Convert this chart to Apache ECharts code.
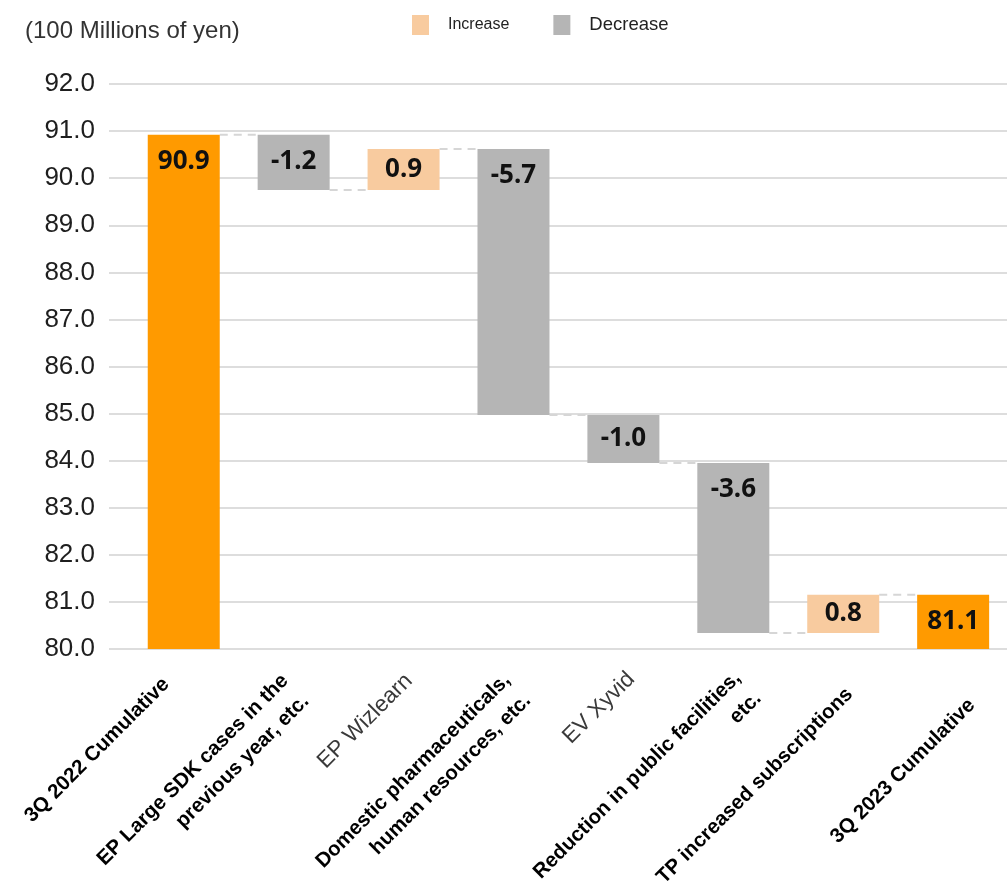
<!DOCTYPE html>
<html>
<head>
<meta charset="utf-8">
<script src="https://cdn.jsdelivr.net/npm/echarts@6/dist/echarts.min.js"></script>
<style>html,body{margin:0;padding:0;background:#fff}#c{width:1007px;height:882px}</style>
</head>
<body>
<div id="c"></div>
<script>
// ---- data ----
const categories = [
  '3Q 2022 Cumulative',
  'EP Large SDK cases in the\nprevious year, etc.',
  'EP Wizlearn',
  'Domestic pharmaceuticals,\nhuman resources, etc.',
  'EV Xyvid',
  'Reduction in public facilities,\netc.',
  'TP increased subscriptions',
  '3Q 2023 Cumulative'
];
const categoryBold = [true, true, false, true, false, true, true, true];
const startTotal = 90.92;
const changes = [-1.17, 0.87, -5.65, -1.02, -3.61, 0.81];
const endTotal = 81.15;
const barLabels = ['90.9', '-1.2', '0.9', '-5.7', '-1.0', '-3.6', '0.8', '81.1'];
const yMin = 80, yMax = 92, yStep = 1;
const seriesNames = ['Increase', 'Decrease'];

// ---- style / layout ----
const COLOR_TOTAL = '#FF9A00', COLOR_INC = '#F8CB9F', COLOR_DEC = '#B5B5B5';
const BAR_W = 0.655;
const X_MIN = -0.68, X_MAX = 7.49;
// per-label nudges [padTop, padRight] in rotated frame
const labelNudge = [[3, 41], [11, 32], [30, 22], [13, 30], [31, 19], [25, 21], [51, 31], [84, 30]];

// ---- build waterfall ----
const totalData = [[0, yMin, startTotal]];
const incData = [], decData = [], linkData = [];
let level = startTotal;
changes.forEach((d, k) => {
  const i = k + 1;
  linkData.push([i - 1, level]);
  const lo = Math.min(level, level + d), hi = Math.max(level, level + d);
  (d >= 0 ? incData : decData).push([i, lo, hi]);
  level += d;
});
linkData.push([changes.length, endTotal]);
totalData.push([categories.length - 1, yMin, endTotal]);

function barRender(color) {
  return function (params, api) {
    const x = api.value(0), lo = api.value(1), hi = api.value(2);
    const pTop = api.coord([x, hi]), pBot = api.coord([x, lo]);
    const w = api.size([BAR_W, 0])[0];
    const h = pBot[1] - pTop[1];
    return {
      type: 'group',
      children: [
        { type: 'rect', shape: { x: pTop[0] - w / 2, y: pTop[1], width: w, height: h }, style: { fill: color } },
        { type: 'text', z2: 10, style: {
            text: barLabels[Math.round(x)], x: pTop[0], y: pTop[1] + Math.min(27, h / 2),
            align: 'center', verticalAlign: 'middle',
            font: 'bold 26px "Noto Sans", "Liberation Sans", sans-serif', fill: '#111' } }
      ]
    };
  };
}

function linkRender(params, api) {
  const x = api.value(0), v = api.value(1);
  const w = api.size([BAR_W, 0])[0];
  const a = api.coord([x, v]), b = api.coord([x + 1, v]);
  return {
    type: 'line',
    shape: { x1: a[0] + w / 2, y1: a[1], x2: b[0] - w / 2, y2: b[1] },
    style: { stroke: '#d6d6d6', lineWidth: 2, lineDash: [8, 6] }
  };
}

const rich = {};
categories.forEach((c, i) => {
  rich['s' + i] = {
    fontFamily: '"Liberation Sans", Arial, sans-serif',
    fontSize: categoryBold[i] ? 20.5 : 22.5,
    fontWeight: categoryBold[i] ? 'bold' : 'normal',
    color: categoryBold[i] ? '#000' : '#3a3a3a',
    lineHeight: 29,
    padding: [labelNudge[i][0], labelNudge[i][1], 0, 0]
  };
});

// label positions: one per category, plus empty guard labels near the axis ends
const labelValues = [X_MIN + 0.08].concat(categories.map((_, i) => i), [X_MAX - 0.04]);

const chart = echarts.init(document.getElementById('c'), null, { renderer: 'canvas' });
chart.setOption({
  animation: false,
  backgroundColor: '#fff',
  title: {
    text: '(100 Millions of yen)', left: 20, top: 14,
    textStyle: { fontFamily: '"Liberation Sans", Arial, sans-serif', fontSize: 24, fontWeight: 'normal', color: '#333' }
  },
  legend: {
    left: 412, top: 15, padding: 0, icon: 'rect', itemWidth: 17, itemHeight: 20, itemGap: 44,
    data: [
      { name: seriesNames[0], textStyle: { fontSize: 16 } },
      { name: seriesNames[1], textStyle: { fontSize: 18.5 } }
    ],
    textStyle: { fontFamily: '"Liberation Sans", Arial, sans-serif', color: '#222', padding: [0, 0, 0, 14] }
  },
  grid: { left: 109, right: 0, top: 84, bottom: 233, outerBoundsMode: 'none' },
  xAxis: {
    type: 'value', min: X_MIN, max: X_MAX,
    splitLine: { show: false }, axisLine: { show: false }, axisTick: { show: false },
    axisLabel: {
      customValues: labelValues,
      hideOverlap: false,
      rotate: 45, margin: -8, verticalAlign: 'top',
      formatter: function (v) {
        const i = Math.round(v);
        if (Math.abs(v - i) > 1e-6 || !categories[i]) return '';
        return categories[i].split('\n').map(l => '{s' + i + '|' + l + '}').join('\n');
      },
      rich: rich
    }
  },
  yAxis: {
    type: 'value', min: yMin, max: yMax, interval: yStep,
    axisLine: { show: false }, axisTick: { show: false },
    splitLine: { lineStyle: { color: '#d2d2d2', width: 1.5 } },
    axisLabel: {
      margin: 14, fontSize: 26, color: '#1e1e1e', fontFamily: '"Liberation Sans", Arial, sans-serif',
      formatter: v => v.toFixed(1)
    }
  },
  series: [
    { name: 'Total', type: 'custom', renderItem: barRender(COLOR_TOTAL), data: totalData,
      itemStyle: { color: COLOR_TOTAL }, encode: { x: 0, y: [1, 2] }, z: 2 },
    { name: seriesNames[0], type: 'custom', renderItem: barRender(COLOR_INC), data: incData,
      itemStyle: { color: COLOR_INC }, encode: { x: 0, y: [1, 2] }, z: 2 },
    { name: seriesNames[1], type: 'custom', renderItem: barRender(COLOR_DEC), data: decData,
      itemStyle: { color: COLOR_DEC }, encode: { x: 0, y: [1, 2] }, z: 2 },
    { name: 'Link', type: 'custom', renderItem: linkRender, data: linkData,
      encode: { x: 0, y: 1 }, z: 1, silent: true }
  ]
});
</script>
</body>
</html>
